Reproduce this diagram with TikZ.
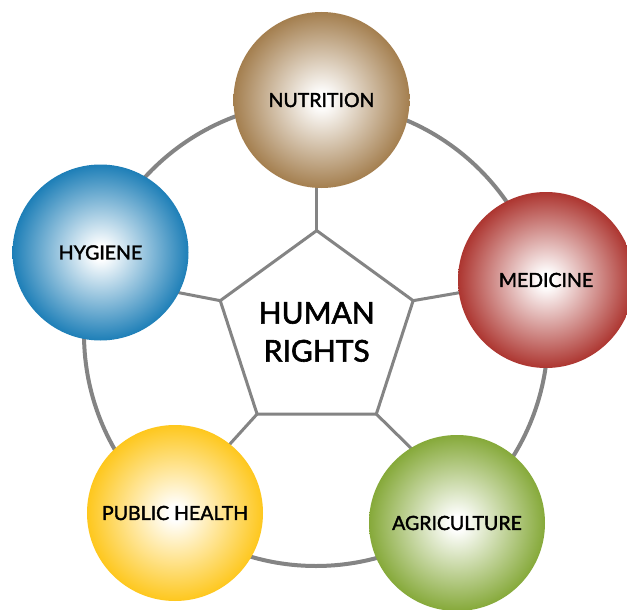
\documentclass[tikz,border=0pt]{standalone}
\usepackage{fontspec}
\setmainfont{Lato}
\newfontfamily\tagfont{Lato}[FakeBold=2]
\usetikzlibrary{shapes.geometric,backgrounds}

\definecolor{nutcol}{RGB}{152,110,56}
\definecolor{hygcol}{RGB}{0,110,174}
\definecolor{medcol}{RGB}{162,27,21}
\definecolor{pubcol}{RGB}{254,192,0}
\definecolor{agrcol}{RGB}{118,158,32}
\definecolor{linegray}{RGB}{132,132,132}

% white centre fading out to the topic colour at the rim
% (the circle's rim sits at about 35bp of the shading)
\pgfdeclareradialshading{nutshade}{\pgfpoint{0bp}{0bp}}{color(0bp)=(white); color(2bp)=(white); color(28bp)=(nutcol); color(36bp)=(nutcol!95!black); color(50bp)=(nutcol!95!black)}
\pgfdeclareradialshading{hygshade}{\pgfpoint{0bp}{0bp}}{color(0bp)=(white); color(2bp)=(white); color(28bp)=(hygcol); color(36bp)=(hygcol!95!black); color(50bp)=(hygcol!95!black)}
\pgfdeclareradialshading{medshade}{\pgfpoint{0bp}{0bp}}{color(0bp)=(white); color(2bp)=(white); color(28bp)=(medcol); color(36bp)=(medcol!95!black); color(50bp)=(medcol!95!black)}
\pgfdeclareradialshading{pubshade}{\pgfpoint{0bp}{0bp}}{color(0bp)=(white); color(2bp)=(white); color(28bp)=(pubcol); color(36bp)=(pubcol!98!black); color(50bp)=(pubcol!98!black)}
\pgfdeclareradialshading{agrshade}{\pgfpoint{0bp}{0bp}}{color(0bp)=(white); color(2bp)=(white); color(28bp)=(agrcol); color(36bp)=(agrcol!95!black); color(50bp)=(agrcol!95!black)}

\tikzset{
  topic/.style={circle, minimum size=176pt, inner sep=0pt, outer sep=0pt,
    shade, font=\tagfont\fontsize{19.5}{19.5}\selectfont},
  hub/.style={regular polygon, regular polygon sides=5, minimum size=198pt,
    inner sep=0pt, outer sep=0pt, draw=linegray, line width=3pt, fill=white,
    align=center, font=\tagfont\fontsize{30}{38}\selectfont},
  spoke/.style={draw=linegray, line width=3pt},
  rim/.style={draw=linegray, line width=4pt}
}

\begin{document}
\begin{tikzpicture}[x=1pt, y=-1pt]
  \clip (0,0) rectangle (627,610);

  % central pentagon
  \node[hub] (hr) at (316.7,332) {HUMAN\\RIGHTS};

  % five topics around it
  \node[topic, shading=nutshade] (nut) at (321.5,100) {NUTRITION};
  \node[topic, shading=hygshade] (hyg) at (100.5,252.5) {HYGIENE};
  \node[topic, shading=medshade] (med) at (546,280) {MEDICINE};
  \node[topic, shading=pubshade] (pub) at (175,513) {PUBLIC HEALTH};
  \node[topic, shading=agrshade] (agr) at (457,523) {AGRICULTURE};

  % spoke ends, hidden under the topic circles
  \coordinate (s1) at (316.7,170);
  \coordinate (s2) at (165,290);
  \coordinate (s3) at (475,290);
  \coordinate (s4) at (220,455);
  \coordinate (s5) at (420,457);

  \begin{scope}[on background layer]
    \fill[white] (0,0) rectangle (627,610);
    \draw[rim] (316,334) circle[radius=232];
    \draw[spoke] (hr.corner 1) -- (s1);
    \draw[spoke] (hr.corner 2) -- (s2);
    \draw[spoke] (hr.corner 5) -- (s3);
    \draw[spoke] (hr.corner 3) -- (s4);
    \draw[spoke] (hr.corner 4) -- (s5);
  \end{scope}
\end{tikzpicture}
\end{document}
